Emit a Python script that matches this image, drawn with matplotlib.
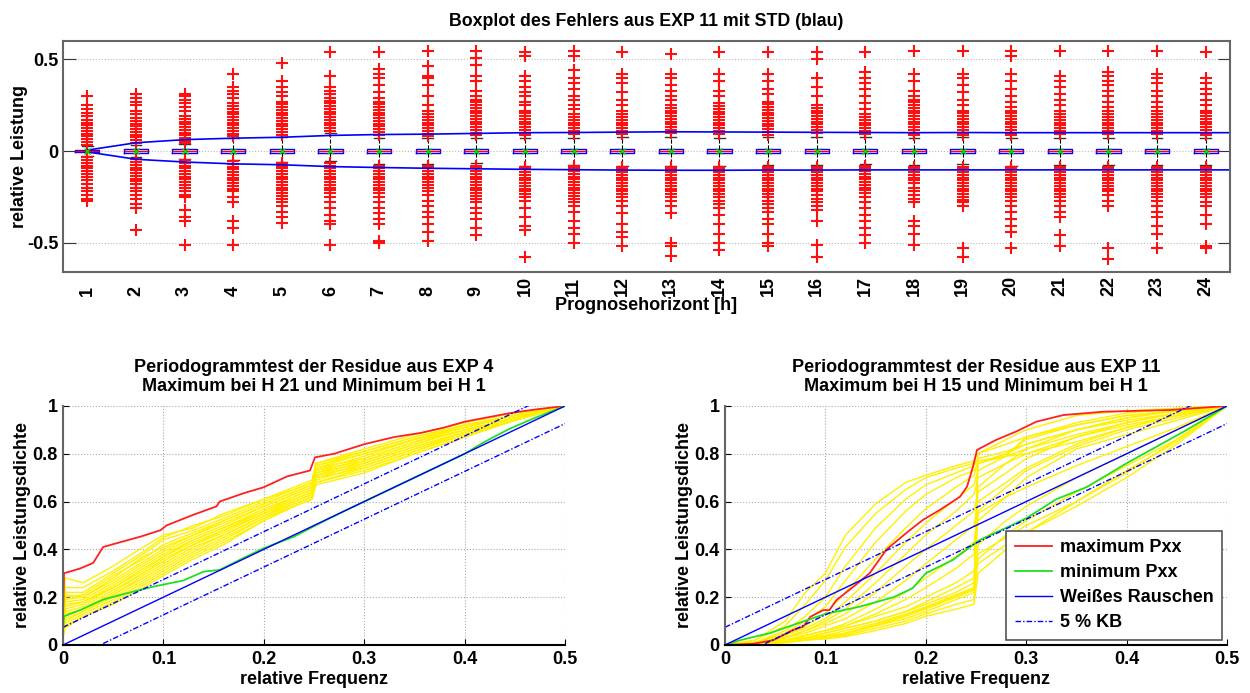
import numpy as np
import matplotlib
matplotlib.use('Agg')
import matplotlib.pyplot as plt

plt.rcParams['font.family'] = ['Liberation Sans', 'DejaVu Sans']
plt.rcParams['font.weight'] = 'bold'
plt.rcParams['axes.labelweight'] = 'bold'
plt.rcParams['axes.titleweight'] = 'bold'


#%% top: boxplot of the error per horizon (EXP 11)
hours = list(range(1, 25))
box_q1 = [-0.004, -0.012, -0.012, -0.012, -0.012, -0.012, -0.012, -0.012, -0.012, -0.012, -0.012, -0.012,
          -0.012, -0.012, -0.012, -0.012, -0.012, -0.012, -0.012, -0.012, -0.012, -0.012, -0.012, -0.012]
box_q3 = [0.004, 0.010, 0.010, 0.010, 0.010, 0.010, 0.010, 0.010, 0.010, 0.010, 0.010, 0.010,
          0.010, 0.010, 0.010, 0.010, 0.010, 0.010, 0.010, 0.010, 0.010, 0.010, 0.010, 0.010]
box_med = [0.0, 0.0, 0.0, 0.0, 0.0, 0.0, 0.0, 0.0, 0.0, 0.0, 0.0, 0.0,
           0.0, 0.0, 0.0, 0.0, 0.0, 0.0, 0.0, 0.0, 0.0, 0.0, 0.0, 0.0]
whis_hi = [0.025, 0.033, 0.038, 0.069, 0.075, 0.096, 0.069, 0.072, 0.070, 0.070, 0.072, 0.078,
           0.078, 0.072, 0.078, 0.078, 0.078, 0.072, 0.075, 0.072, 0.072, 0.072, 0.072, 0.072]
whis_lo = [-0.025, -0.031, -0.045, -0.049, -0.058, -0.055, -0.071, -0.071, -0.067, -0.080, -0.076, -0.080,
           -0.080, -0.081, -0.076, -0.076, -0.072, -0.075, -0.072, -0.080, -0.075, -0.075, -0.076, -0.076]
std_up = [0.005, 0.045, 0.062, 0.070, 0.075, 0.085, 0.090, 0.092, 0.096, 0.100, 0.101, 0.103,
          0.105, 0.104, 0.103, 0.102, 0.101, 0.100, 0.101, 0.100, 0.100, 0.100, 0.100, 0.100]
std_dn = [-0.005, -0.045, -0.060, -0.070, -0.075, -0.085, -0.090, -0.094, -0.097, -0.100, -0.102, -0.104,
          -0.105, -0.105, -0.104, -0.104, -0.103, -0.103, -0.103, -0.103, -0.103, -0.103, -0.103, -0.103]

outliers = [
    [0.30, 0.25, 0.23, 0.21, 0.19, 0.17, 0.155, 0.14, 0.125, 0.11, 0.095, 0.08, 0.065, 0.05, 0.035,
     -0.035, -0.05, -0.065, -0.08, -0.095, -0.11, -0.125, -0.14, -0.16, -0.18, -0.20, -0.22, -0.24, -0.26, -0.27],
    [0.31, 0.29, 0.27, 0.25, 0.22, 0.20, 0.18, 0.165, 0.15, 0.135, 0.12, 0.105, 0.09, 0.075, 0.06, 0.045,
     -0.045, -0.06, -0.075, -0.09, -0.105, -0.12, -0.135, -0.15, -0.165, -0.18, -0.20, -0.22, -0.24, -0.26,
     -0.29, -0.31, -0.43],
    [0.31, 0.30, 0.28, 0.26, 0.24, 0.22, 0.19, 0.175, 0.16, 0.145, 0.13, 0.115, 0.10, 0.085, 0.07, 0.055, 0.045,
     -0.05, -0.065, -0.08, -0.095, -0.11, -0.125, -0.14, -0.155, -0.17, -0.185, -0.20, -0.22, -0.24, -0.25,
     -0.32, -0.36, -0.38, -0.51],
    [0.42, 0.35, 0.33, 0.31, 0.29, 0.26, 0.245, 0.23, 0.215, 0.20, 0.185, 0.17, 0.155, 0.14, 0.125, 0.11, 0.095, 0.08,
     -0.055, -0.07, -0.085, -0.10, -0.115, -0.13, -0.145, -0.16, -0.175, -0.19, -0.205, -0.22, -0.25, -0.28,
     -0.38, -0.42, -0.51],
    [0.48, 0.38, 0.35, 0.32, 0.30, 0.27, 0.255, 0.24, 0.225, 0.21, 0.195, 0.18, 0.165, 0.15, 0.135, 0.12, 0.105, 0.09,
     -0.065, -0.08, -0.095, -0.11, -0.125, -0.14, -0.155, -0.17, -0.185, -0.20, -0.215, -0.23, -0.245, -0.26,
     -0.28, -0.30, -0.33, -0.36, -0.39],
    [0.54, 0.41, 0.35, 0.33, 0.31, 0.29, 0.275, 0.26, 0.245, 0.23, 0.215, 0.20, 0.185, 0.17, 0.155, 0.14, 0.125, 0.11,
     -0.065, -0.08, -0.095, -0.11, -0.125, -0.14, -0.155, -0.17, -0.185, -0.20, -0.215, -0.23, -0.25, -0.28,
     -0.31, -0.35, -0.38, -0.40, -0.51],
    [0.54, 0.45, 0.42, 0.40, 0.36, 0.32, 0.29, 0.27, 0.255, 0.24, 0.225, 0.21, 0.195, 0.18, 0.165, 0.15, 0.135,
     0.12, 0.105, 0.09,
     -0.08, -0.095, -0.11, -0.125, -0.14, -0.155, -0.17, -0.185, -0.20, -0.215, -0.23, -0.25, -0.28, -0.31,
     -0.34, -0.37, -0.40, -0.49, -0.50],
    [0.545, 0.465, 0.41, 0.40, 0.36, 0.30, 0.25, 0.22, 0.20, 0.185, 0.17, 0.155, 0.14, 0.125, 0.11, 0.095, 0.08,
     -0.08, -0.095, -0.11, -0.125, -0.14, -0.155, -0.17, -0.185, -0.20, -0.22, -0.24, -0.27, -0.30, -0.33,
     -0.36, -0.40, -0.44, -0.49],
    [0.545, 0.51, 0.47, 0.41, 0.38, 0.33, 0.30, 0.28, 0.265, 0.25, 0.235, 0.22, 0.205, 0.19, 0.175, 0.16, 0.145,
     0.13, 0.115, 0.10, 0.085,
     -0.08, -0.095, -0.11, -0.125, -0.14, -0.155, -0.17, -0.185, -0.20, -0.215, -0.23, -0.245, -0.26, -0.28,
     -0.31, -0.34, -0.37, -0.42, -0.46],
    [0.54, 0.52, 0.41, 0.38, 0.35, 0.32, 0.30, 0.27, 0.25, 0.22, 0.205, 0.19, 0.175, 0.16, 0.145, 0.13, 0.115,
     0.10, 0.085,
     -0.085, -0.10, -0.115, -0.13, -0.145, -0.16, -0.175, -0.19, -0.205, -0.22, -0.235, -0.25, -0.27, -0.31,
     -0.36, -0.41, -0.43, -0.58],
    [0.545, 0.52, 0.44, 0.40, 0.37, 0.34, 0.30, 0.28, 0.25, 0.23, 0.20, 0.185, 0.17, 0.155, 0.14, 0.125, 0.11, 0.095,
     -0.08, -0.095, -0.11, -0.125, -0.14, -0.155, -0.17, -0.185, -0.20, -0.215, -0.23, -0.245, -0.26, -0.28,
     -0.30, -0.33, -0.38, -0.42, -0.45, -0.50],
    [0.54, 0.42, 0.40, 0.37, 0.32, 0.28, 0.25, 0.22, 0.20, 0.185, 0.17, 0.155, 0.14, 0.125, 0.11, 0.095,
     -0.085, -0.10, -0.115, -0.13, -0.145, -0.16, -0.175, -0.19, -0.205, -0.22, -0.235, -0.25, -0.27, -0.30,
     -0.34, -0.40, -0.44, -0.47, -0.52],
    [0.53, 0.42, 0.40, 0.36, 0.33, 0.30, 0.28, 0.25, 0.235, 0.22, 0.205, 0.19, 0.175, 0.16, 0.145, 0.13, 0.115, 0.10,
     -0.085, -0.10, -0.115, -0.13, -0.145, -0.16, -0.175, -0.19, -0.205, -0.22, -0.235, -0.25, -0.27, -0.30,
     -0.34, -0.50, -0.52, -0.57],
    [0.54, 0.42, 0.38, 0.33, 0.30, 0.26, 0.245, 0.23, 0.215, 0.20, 0.185, 0.17, 0.155, 0.14, 0.125, 0.11, 0.095,
     -0.085, -0.10, -0.115, -0.13, -0.145, -0.16, -0.175, -0.19, -0.205, -0.22, -0.235, -0.25, -0.27, -0.29,
     -0.31, -0.35, -0.40, -0.45, -0.50, -0.54],
    [0.54, 0.42, 0.38, 0.34, 0.31, 0.27, 0.255, 0.24, 0.225, 0.21, 0.195, 0.18, 0.165, 0.15, 0.135, 0.12, 0.105, 0.09,
     -0.085, -0.10, -0.115, -0.13, -0.145, -0.16, -0.175, -0.19, -0.205, -0.22, -0.235, -0.25, -0.27, -0.29,
     -0.31, -0.33, -0.37, -0.40, -0.45, -0.50, -0.52],
    [0.54, 0.50, 0.40, 0.35, 0.30, 0.25, 0.235, 0.22, 0.205, 0.19, 0.175, 0.16, 0.145, 0.13, 0.115, 0.10,
     -0.085, -0.10, -0.115, -0.13, -0.145, -0.16, -0.175, -0.19, -0.205, -0.22, -0.24, -0.26, -0.28, -0.30,
     -0.32, -0.38, -0.51, -0.58],
    [0.54, 0.43, 0.40, 0.37, 0.34, 0.30, 0.26, 0.23, 0.20, 0.185, 0.17, 0.155, 0.14, 0.125, 0.11, 0.095,
     -0.08, -0.095, -0.11, -0.125, -0.14, -0.155, -0.17, -0.185, -0.20, -0.215, -0.23, -0.25, -0.28, -0.31,
     -0.35, -0.38, -0.42, -0.46, -0.50],
    [0.545, 0.42, 0.38, 0.33, 0.30, 0.28, 0.265, 0.25, 0.235, 0.22, 0.205, 0.19, 0.175, 0.16, 0.145, 0.13, 0.115,
     0.10, 0.085,
     -0.085, -0.10, -0.115, -0.13, -0.145, -0.16, -0.175, -0.20, -0.22, -0.24, -0.26, -0.28, -0.38, -0.41,
     -0.45, -0.51],
    [0.545, 0.42, 0.40, 0.36, 0.32, 0.28, 0.25, 0.22, 0.205, 0.19, 0.175, 0.16, 0.145, 0.13, 0.115, 0.10, 0.085,
     -0.085, -0.10, -0.115, -0.13, -0.145, -0.16, -0.175, -0.19, -0.205, -0.22, -0.235, -0.25, -0.265, -0.28,
     -0.30, -0.53, -0.58],
    [0.545, 0.52, 0.42, 0.38, 0.34, 0.30, 0.27, 0.24, 0.22, 0.205, 0.19, 0.175, 0.16, 0.145, 0.13, 0.115, 0.10, 0.085,
     -0.085, -0.10, -0.115, -0.13, -0.145, -0.16, -0.175, -0.19, -0.205, -0.22, -0.235, -0.25, -0.27, -0.30,
     -0.33, -0.37, -0.41, -0.44, -0.53],
    [0.545, 0.41, 0.38, 0.35, 0.31, 0.28, 0.25, 0.22, 0.20, 0.185, 0.17, 0.155, 0.14, 0.125, 0.11, 0.095,
     -0.085, -0.10, -0.115, -0.13, -0.145, -0.16, -0.175, -0.19, -0.205, -0.22, -0.235, -0.25, -0.27, -0.30,
     -0.33, -0.36, -0.46, -0.52],
    [0.545, 0.43, 0.41, 0.38, 0.36, 0.33, 0.30, 0.27, 0.24, 0.22, 0.20, 0.185, 0.17, 0.155, 0.14, 0.125, 0.11, 0.095,
     -0.085, -0.10, -0.115, -0.13, -0.145, -0.16, -0.175, -0.19, -0.205, -0.22, -0.24, -0.27, -0.30, -0.53, -0.59],
    [0.545, 0.42, 0.40, 0.37, 0.33, 0.30, 0.27, 0.24, 0.22, 0.20, 0.185, 0.17, 0.155, 0.14, 0.125, 0.11, 0.095,
     -0.085, -0.10, -0.115, -0.13, -0.145, -0.16, -0.175, -0.19, -0.205, -0.22, -0.235, -0.25, -0.27, -0.30,
     -0.33, -0.36, -0.41, -0.45, -0.53],
    [0.54, 0.40, 0.37, 0.34, 0.31, 0.28, 0.25, 0.22, 0.205, 0.19, 0.175, 0.16, 0.145, 0.13, 0.115, 0.10, 0.085,
     -0.085, -0.10, -0.115, -0.13, -0.145, -0.16, -0.175, -0.19, -0.205, -0.22, -0.235, -0.25, -0.28, -0.30,
     -0.35, -0.40, -0.52, -0.53],
]


#%% bottom: cumulative periodogram test
# EXP 4 (left)
fx4 = [0, 0.002, 0.02, 0.05, 0.08, 0.10, 0.13, 0.16, 0.20, 0.23, 0.248, 0.252, 0.30, 0.35, 0.40, 0.45, 0.50]
yel4 = [
    [0.05, 0.28, 0.26, 0.33, 0.41, 0.46, 0.49, 0.55, 0.61, 0.66, 0.69, 0.76, 0.82, 0.88, 0.93, 0.97, 1],
    [0.05, 0.22, 0.22, 0.30, 0.38, 0.44, 0.48, 0.53, 0.60, 0.65, 0.68, 0.75, 0.81, 0.87, 0.92, 0.96, 1],
    [0.04, 0.20, 0.21, 0.29, 0.36, 0.42, 0.47, 0.52, 0.59, 0.64, 0.67, 0.74, 0.80, 0.86, 0.92, 0.96, 1],
    [0.04, 0.19, 0.20, 0.27, 0.35, 0.40, 0.46, 0.51, 0.58, 0.63, 0.66, 0.73, 0.79, 0.86, 0.91, 0.96, 1],
    [0.04, 0.18, 0.19, 0.26, 0.34, 0.39, 0.45, 0.50, 0.58, 0.63, 0.66, 0.74, 0.78, 0.85, 0.91, 0.96, 1],
    [0.03, 0.17, 0.18, 0.25, 0.33, 0.38, 0.44, 0.49, 0.57, 0.62, 0.65, 0.72, 0.78, 0.85, 0.90, 0.95, 1],
    [0.03, 0.16, 0.18, 0.24, 0.32, 0.37, 0.44, 0.49, 0.56, 0.62, 0.65, 0.73, 0.77, 0.84, 0.90, 0.95, 1],
    [0.03, 0.15, 0.17, 0.24, 0.31, 0.37, 0.43, 0.48, 0.56, 0.61, 0.64, 0.71, 0.77, 0.84, 0.90, 0.95, 1],
    [0.03, 0.14, 0.16, 0.23, 0.30, 0.36, 0.42, 0.48, 0.55, 0.61, 0.64, 0.72, 0.76, 0.83, 0.89, 0.95, 1],
    [0.03, 0.13, 0.15, 0.22, 0.30, 0.35, 0.42, 0.47, 0.55, 0.60, 0.63, 0.70, 0.76, 0.83, 0.89, 0.95, 1],
    [0.03, 0.12, 0.15, 0.21, 0.29, 0.34, 0.41, 0.46, 0.54, 0.60, 0.63, 0.71, 0.75, 0.82, 0.89, 0.94, 1],
    [0.03, 0.11, 0.14, 0.21, 0.28, 0.33, 0.40, 0.46, 0.54, 0.59, 0.62, 0.69, 0.75, 0.82, 0.88, 0.94, 1],
    [0.03, 0.10, 0.14, 0.20, 0.27, 0.32, 0.39, 0.45, 0.53, 0.59, 0.62, 0.70, 0.74, 0.81, 0.88, 0.94, 1],
    [0.03, 0.09, 0.13, 0.19, 0.26, 0.31, 0.38, 0.44, 0.53, 0.58, 0.61, 0.68, 0.74, 0.81, 0.88, 0.94, 1],
    [0.03, 0.08, 0.12, 0.18, 0.25, 0.30, 0.37, 0.43, 0.52, 0.58, 0.61, 0.68, 0.73, 0.80, 0.87, 0.94, 1],
    [0.03, 0.07, 0.12, 0.17, 0.24, 0.29, 0.36, 0.42, 0.52, 0.58, 0.61, 0.67, 0.72, 0.80, 0.87, 0.94, 1],
    [0.05, 0.24, 0.24, 0.31, 0.39, 0.45, 0.50, 0.54, 0.61, 0.65, 0.68, 0.76, 0.81, 0.87, 0.92, 0.96, 1],
    [0.04, 0.21, 0.20, 0.28, 0.37, 0.41, 0.46, 0.52, 0.59, 0.64, 0.67, 0.75, 0.80, 0.86, 0.91, 0.96, 1],
]
max4_f = [0, 0.001, 0.017, 0.03, 0.04, 0.057, 0.077, 0.097, 0.103, 0.13, 0.153, 0.156, 0.18, 0.20,
          0.223, 0.246, 0.251, 0.27, 0.30, 0.33, 0.356, 0.38, 0.40, 0.42, 0.445, 0.47, 0.50]
max4_p = [0.10, 0.30, 0.32, 0.343, 0.41, 0.43, 0.453, 0.48, 0.50, 0.545, 0.58, 0.60, 0.635, 0.66,
          0.705, 0.73, 0.785, 0.80, 0.84, 0.87, 0.887, 0.91, 0.934, 0.95, 0.97, 0.985, 1.0]
min4_f = [0, 0.001, 0.017, 0.04, 0.063, 0.09, 0.12, 0.14, 0.156, 0.176, 0.20, 0.23, 0.256, 0.28,
          0.30, 0.33, 0.36, 0.40, 0.42, 0.445, 0.47, 0.50]
min4_p = [0.06, 0.12, 0.146, 0.19, 0.216, 0.244, 0.27, 0.307, 0.314, 0.356, 0.405, 0.453, 0.51, 0.56,
          0.60, 0.66, 0.72, 0.80, 0.85, 0.905, 0.95, 1.0]

# EXP 11 (right)
fx11 = [0, 0.03, 0.06, 0.08, 0.10, 0.12, 0.15, 0.18, 0.20, 0.23, 0.248, 0.252, 0.28, 0.30, 0.35, 0.40, 0.45, 0.50]
yel11 = [
    [0, 0.02, 0.10, 0.22, 0.30, 0.46, 0.59, 0.68, 0.71, 0.75, 0.77, 0.80, 0.86, 0.90, 0.96, 0.98, 0.99, 1],
    [0, 0.02, 0.08, 0.17, 0.27, 0.41, 0.55, 0.65, 0.70, 0.74, 0.76, 0.78, 0.81, 0.84, 0.90, 0.95, 0.98, 1],
    [0, 0.01, 0.06, 0.12, 0.20, 0.33, 0.49, 0.61, 0.67, 0.72, 0.75, 0.77, 0.79, 0.80, 0.85, 0.91, 0.96, 1],
    [0, 0.01, 0.05, 0.10, 0.16, 0.27, 0.43, 0.56, 0.63, 0.70, 0.73, 0.76, 0.79, 0.82, 0.88, 0.93, 0.97, 1],
    [0, 0.01, 0.04, 0.08, 0.13, 0.22, 0.36, 0.49, 0.57, 0.66, 0.71, 0.76, 0.80, 0.86, 0.92, 0.96, 0.98, 1],
    [0, 0.01, 0.04, 0.07, 0.11, 0.18, 0.30, 0.43, 0.51, 0.61, 0.67, 0.73, 0.79, 0.87, 0.93, 0.97, 0.99, 1],
    [0, 0.01, 0.03, 0.06, 0.10, 0.15, 0.26, 0.38, 0.46, 0.56, 0.63, 0.70, 0.76, 0.80, 0.87, 0.92, 0.96, 1],
    [0, 0.01, 0.03, 0.06, 0.09, 0.13, 0.22, 0.33, 0.40, 0.50, 0.56, 0.64, 0.72, 0.78, 0.87, 0.93, 0.97, 1],
    [0, 0.01, 0.03, 0.05, 0.08, 0.11, 0.18, 0.27, 0.34, 0.44, 0.50, 0.60, 0.68, 0.74, 0.84, 0.91, 0.96, 1],
    [0, 0.01, 0.02, 0.04, 0.06, 0.09, 0.15, 0.22, 0.28, 0.37, 0.43, 0.56, 0.66, 0.73, 0.83, 0.90, 0.95, 1],
    [0, 0.01, 0.02, 0.04, 0.06, 0.08, 0.13, 0.19, 0.24, 0.32, 0.38, 0.52, 0.62, 0.70, 0.82, 0.88, 0.94, 1],
    [0, 0.005, 0.02, 0.03, 0.05, 0.07, 0.10, 0.14, 0.17, 0.22, 0.26, 0.66, 0.76, 0.82, 0.90, 0.94, 0.97, 1],
    [0, 0.005, 0.015, 0.03, 0.04, 0.06, 0.09, 0.13, 0.16, 0.21, 0.24, 0.76, 0.80, 0.84, 0.90, 0.95, 0.98, 1],
    [0, 0.004, 0.015, 0.025, 0.035, 0.05, 0.08, 0.11, 0.14, 0.19, 0.22, 0.42, 0.52, 0.58, 0.70, 0.80, 0.90, 1],
    [0, 0.003, 0.01, 0.02, 0.03, 0.04, 0.07, 0.10, 0.13, 0.17, 0.19, 0.36, 0.46, 0.52, 0.64, 0.75, 0.86, 1],
    [0, 0.003, 0.01, 0.02, 0.025, 0.035, 0.06, 0.09, 0.12, 0.15, 0.17, 0.30, 0.40, 0.47, 0.60, 0.73, 0.85, 1],
    [0, 0.004, 0.012, 0.02, 0.03, 0.045, 0.08, 0.12, 0.15, 0.20, 0.23, 0.55, 0.62, 0.66, 0.75, 0.83, 0.91, 1],
    [0, 0.004, 0.012, 0.022, 0.035, 0.05, 0.085, 0.125, 0.155, 0.205, 0.235, 0.80, 0.84, 0.87, 0.92, 0.96, 0.98, 1],
    [0, 0.01, 0.02, 0.04, 0.06, 0.08, 0.12, 0.16, 0.20, 0.26, 0.31, 0.38, 0.45, 0.50, 0.60, 0.72, 0.86, 1],
    [0, 0.01, 0.02, 0.03, 0.05, 0.07, 0.10, 0.14, 0.18, 0.24, 0.28, 0.34, 0.42, 0.47, 0.58, 0.70, 0.84, 1],
]
max11_f = [0, 0.028, 0.048, 0.068, 0.078, 0.085, 0.098, 0.104, 0.111, 0.128, 0.144, 0.161, 0.181, 0.197,
           0.214, 0.234, 0.241, 0.247, 0.251, 0.27, 0.29, 0.31, 0.337, 0.377, 0.443, 0.50]
max11_p = [0, 0.005, 0.02, 0.063, 0.077, 0.118, 0.146, 0.146, 0.188, 0.244, 0.30, 0.40, 0.47, 0.523,
           0.565, 0.62, 0.662, 0.746, 0.816, 0.858, 0.893, 0.934, 0.962, 0.976, 0.983, 1.0]
min11_f = [0, 0.015, 0.045, 0.068, 0.10, 0.134, 0.168, 0.187, 0.20, 0.227, 0.254, 0.28, 0.30, 0.33,
           0.36, 0.40, 0.43, 0.46, 0.48, 0.50]
min11_p = [0, 0.02, 0.05, 0.084, 0.13, 0.16, 0.20, 0.238, 0.30, 0.356, 0.44, 0.49, 0.53, 0.61,
           0.66, 0.76, 0.83, 0.90, 0.95, 1.0]

# white noise reference and 5 % confidence band
wn_f = [0, 0.5]
wn_p = [0, 1]
kb_up = [0.074, 1.074]
kb_dn = [-0.074, 0.926]

panels = [
    ('Periodogrammtest der Residue aus EXP 4\nMaximum bei H 21 und Minimum bei H 1',
     fx4, yel4, max4_f, max4_p, min4_f, min4_p),
    ('Periodogrammtest der Residue aus EXP 11\nMaximum bei H 15 und Minimum bei H 1',
     fx11, yel11, max11_f, max11_p, min11_f, min11_p),
]


#%% figure
fig = plt.figure(figsize=(12.5, 6.93), dpi=100)
ax = fig.add_axes([0.0504, 0.6075, 0.9336, 0.3333])

stats = []
for i in range(len(hours)):
    stats.append(dict(med=box_med[i], q1=box_q1[i], q3=box_q3[i], whislo=whis_lo[i], whishi=whis_hi[i],
                      mean=box_med[i], fliers=outliers[i]))
ax.bxp(stats, positions=hours, widths=0.5, showmeans=True, manage_ticks=False, capwidths=0.22,
       boxprops=dict(color='blue', lw=1),
       medianprops=dict(color='red', lw=1),
       whiskerprops=dict(color='black', ls='--', lw=0.8),
       capprops=dict(color='#333333', lw=1),
       flierprops=dict(marker='+', markeredgecolor='#ff1010', markersize=8, markeredgewidth=1.5),
       meanprops=dict(marker='x', markeredgecolor='#00dd00', markersize=4, markeredgewidth=1))
ax.plot(hours + [24.5], std_up + [std_up[-1]], color='blue', lw=1.2)
ax.plot(hours + [24.5], std_dn + [std_dn[-1]], color='blue', lw=1.2)

ax.set_xlim(0.5, 24.5)
ax.set_ylim(-0.66, 0.6)
ax.set_xticks(hours)
ax.set_xticklabels([str(h) for h in hours], rotation=90, fontsize=13, va='bottom')
ax.set_yticks([-0.5, 0, 0.5])
ax.set_yticklabels(['-0.5', '0', '0.5'], fontsize=13)
ax.tick_params(axis='x', length=0, pad=17.5)
ax.tick_params(axis='y', direction='in', length=9, color='#333333', right=True)
ax.yaxis.grid(True, ls=':', color='#bbbbbb', lw=0.8)
for s in ax.spines.values():
    s.set_color('#666666')
    s.set_linewidth(1.5)
ax.set_title('Boxplot des Fehlers aus EXP 11 mit STD (blau)', fontsize=12.8, pad=11)
ax.set_xlabel('Prognosehorizont [h]', fontsize=13)
ax.xaxis.set_label_coords(0.5, -0.11)
ax.set_ylabel('relative Leistung', fontsize=13)
ax.yaxis.set_label_coords(-0.03, 0.5)

for k, (title, fx, yel, mx_f, mx_p, mn_f, mn_p) in enumerate(panels):
    left = 0.0504 if k == 0 else 0.58
    a = fig.add_axes([left, 0.0693, 0.4016, 0.3449])
    for curve in yel:
        a.plot(fx, curve, color='#fff000', lw=1)
    a.plot(mx_f, mx_p, color='#ff2020', lw=1.3, label='maximum Pxx')
    a.plot(mn_f, mn_p, color='#20e020', lw=1.3, label='minimum Pxx')
    a.plot(wn_f, wn_p, color='blue', lw=1, label='Weißes Rauschen')
    a.plot(wn_f, kb_up, color='blue', lw=1, ls=(0, (4, 1.5, 1, 1.5)), label='5 % KB')
    a.plot(wn_f, kb_dn, color='blue', lw=1, ls=(0, (4, 1.5, 1, 1.5)))
    a.set_xlim(0, 0.5)
    a.set_ylim(0, 1)
    a.set_xticks([0, 0.1, 0.2, 0.3, 0.4, 0.5])
    a.set_xticklabels(['0', '0.1', '0.2', '0.3', '0.4', '0.5'], fontsize=13)
    a.set_yticks([0, 0.2, 0.4, 0.6, 0.8, 1])
    a.set_yticklabels(['0', '0.2', '0.4', '0.6', '0.8', '1'], fontsize=13)
    a.tick_params(direction='in', length=4, pad=4)
    a.grid(True, ls=':', color='#aaaaaa', lw=0.8)
    a.spines['top'].set_visible(False)
    a.spines['right'].set_visible(False)
    a.spines['left'].set_color('#666666')
    a.spines['left'].set_linewidth(1.5)
    a.spines['bottom'].set_color('black')
    a.spines['bottom'].set_linewidth(1.5)
    a.set_title(title, fontsize=13, pad=11, linespacing=1.15)
    a.set_xlabel('relative Frequenz', fontsize=13)
    a.xaxis.set_label_coords(0.5, -0.11)
    a.set_ylabel('relative Leistungsdichte', fontsize=13)
    a.yaxis.set_label_coords(-0.063, 0.5)
    if k == 1:
        h, l = a.get_legend_handles_labels()
        leg = a.legend(h, l, loc='lower right', fontsize=13, frameon=True, fancybox=False,
                       edgecolor='#555555', framealpha=1, handlelength=2.1, handletextpad=0.4,
                       borderaxespad=0.3, labelspacing=0.45, borderpad=0.45)
        leg.get_frame().set_linewidth(1.2)

fig.savefig('out.png', dpi=100)
